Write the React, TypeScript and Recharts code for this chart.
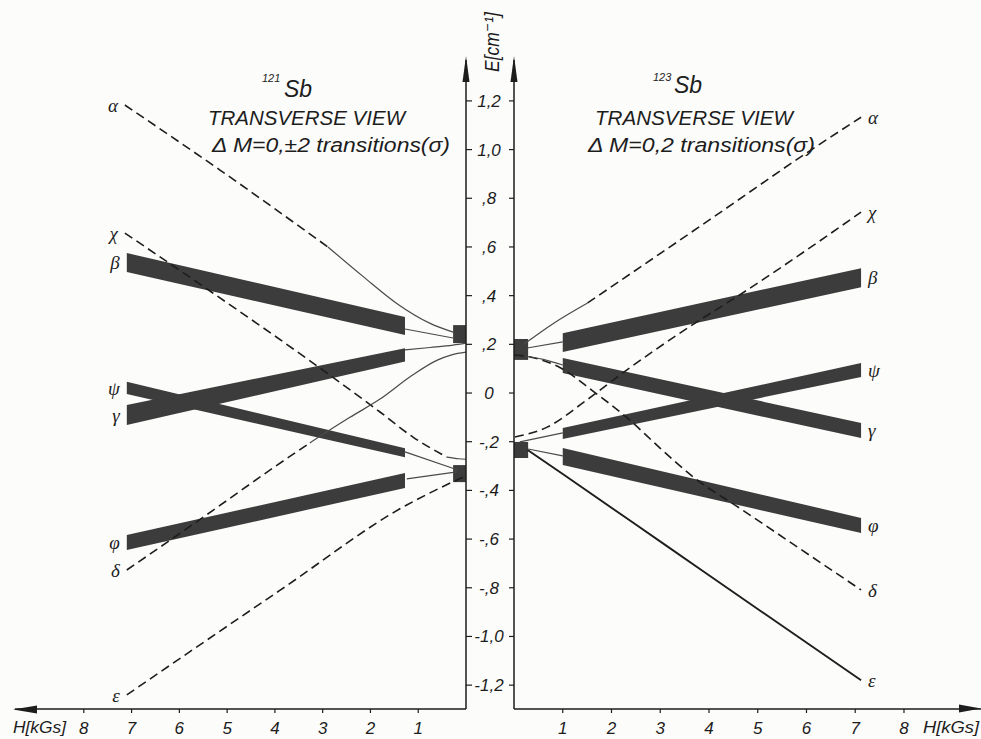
import React from 'react';
import { ComposedChart, Line, Area, XAxis, YAxis, ReferenceDot } from 'recharts';

type Pt = { h: number; e: number };
type RPt = { h: number; e: [number, number] };

// ---- axes ----
const eTicks = [-1.2, -1.0, -0.8, -0.6, -0.4, -0.2, 0, 0.2, 0.4, 0.6, 0.8, 1.0, 1.2];
const eTickLabels = ['-1,2', '-1,0', '-,8', '-,6', '-,4', '-,2', '0', ',2', ',4', ',6', ',8', '1,0', '1,2'];
const hTicks = [1, 2, 3, 4, 5, 6, 7, 8];
const hTickLabels = ['1', '2', '3', '4', '5', '6', '7', '8'];

// ---- 121Sb (left panel), H in kGs, E in cm^-1 ----
const betaL: RPt[] = [{ h: 7.1, e: [0.497, 0.575] }, { h: 1.277, e: [0.238, 0.312] }];
const gammaL: RPt[] = [{ h: 7.1, e: [-0.131, -0.049] }, { h: 1.277, e: [0.129, 0.184] }];
const psiL: RPt[] = [{ h: 7.1, e: [-0.004, 0.046] }, { h: 1.277, e: [-0.264, -0.227] }];
const phiL: RPt[] = [{ h: 7.1, e: [-0.645, -0.583] }, { h: 1.277, e: [-0.39, -0.329] }];
const blockUpL: RPt[] = [{ h: 0.27, e: [0.205, 0.279] }, { h: 0, e: [0.205, 0.279] }];
const blockLoL: RPt[] = [{ h: 0.27, e: [-0.366, -0.296] }, { h: 0, e: [-0.366, -0.296] }];

const alphaLDash: Pt[] = [{ h: 7.14, e: 1.183 }, { h: 5.15, e: 0.916 }, { h: 2.89, e: 0.6 }];
const alphaLSolid: Pt[] = [{ h: 2.89, e: 0.6 }, { h: 2.15, e: 0.478 }, { h: 1.45, e: 0.368 }, { h: 0.75, e: 0.286 }, { h: 0.27, e: 0.25 }];
const chiLDash: Pt[] = [{ h: 7.14, e: 0.657 }, { h: 5.3, e: 0.411 }, { h: 3.2, e: 0.123 }, { h: 1.8, e: -0.078 }, { h: 1.11, e: -0.181 }, { h: 0.4, e: -0.263 }];
const chiLSolid: Pt[] = [{ h: 0.4, e: -0.263 }, { h: 0.15, e: -0.27 }, { h: 0, e: -0.272 }];
const deltaLDash: Pt[] = [{ h: 7.1, e: -0.727 }, { h: 5.5, e: -0.51 }, { h: 4.04, e: -0.308 }, { h: 3.27, e: -0.205 }];
const deltaLSolid: Pt[] = [{ h: 3.27, e: -0.205 }, { h: 2.43, e: -0.1 }, { h: 1.8, e: -0.025 }, { h: 1.11, e: 0.075 }, { h: 0.6, e: 0.135 }, { h: 0.3, e: 0.157 }, { h: 0, e: 0.168 }];
const epsLDash: Pt[] = [{ h: 7.1, e: -1.24 }, { h: 3.89, e: -0.81 }, { h: 1.24, e: -0.46 }, { h: 0.7, e: -0.405 }, { h: 0.19, e: -0.357 }, { h: 0, e: -0.34 }];
const betaConnL: Pt[] = [{ h: 1.277, e: 0.263 }, { h: 0.27, e: 0.226 }];
const gammaConnL: Pt[] = [{ h: 1.277, e: 0.177 }, { h: 0.75, e: 0.187 }, { h: 0.27, e: 0.197 }, { h: 0, e: 0.205 }];
const psiConnL: Pt[] = [{ h: 1.277, e: -0.242 }, { h: 0.17, e: -0.316 }];
const phiConnL: Pt[] = [{ h: 1.24, e: -0.353 }, { h: 0.19, e: -0.324 }];

// ---- 123Sb (right panel) ----
const betaR: RPt[] = [{ h: 1.0, e: [0.168, 0.246] }, { h: 7.12, e: [0.435, 0.513] }];
const gammaR: RPt[] = [{ h: 1.0, e: [0.082, 0.144] }, { h: 7.12, e: [-0.185, -0.123] }];
const psiR: RPt[] = [{ h: 1.0, e: [-0.189, -0.144] }, { h: 7.12, e: [0.066, 0.123] }];
const phiR: RPt[] = [{ h: 1.0, e: [-0.296, -0.226] }, { h: 7.12, e: [-0.575, -0.513] }];
const blockUpR: RPt[] = [{ h: 0, e: [0.136, 0.222] }, { h: 0.29, e: [0.136, 0.222] }];
const blockLoR: RPt[] = [{ h: 0, e: [-0.267, -0.201] }, { h: 0.29, e: [-0.267, -0.201] }];

const alphaRSolid: Pt[] = [{ h: 0.2, e: 0.2 }, { h: 0.8, e: 0.285 }, { h: 1.51, e: 0.37 }];
const alphaRDash: Pt[] = [{ h: 1.51, e: 0.37 }, { h: 4.0, e: 0.71 }, { h: 6.09, e: 0.998 }, { h: 7.12, e: 1.133 }];
const chiRDash: Pt[] = [{ h: 0.02, e: -0.181 }, { h: 0.68, e: -0.14 }, { h: 1.49, e: -0.029 }, { h: 2.31, e: 0.094 }, { h: 3.66, e: 0.28 }, { h: 4.69, e: 0.411 }, { h: 7.12, e: 0.743 }];
const deltaRDash: Pt[] = [{ h: 0.02, e: 0.156 }, { h: 0.4, e: 0.145 }, { h: 0.94, e: 0.105 }, { h: 1.62, e: 0.008 }, { h: 2.31, e: -0.1 }, { h: 2.99, e: -0.225 }, { h: 3.66, e: -0.342 }, { h: 4.69, e: -0.481 }, { h: 7.12, e: -0.809 }];
const epsRSolid: Pt[] = [{ h: 0.28, e: -0.234 }, { h: 1.0, e: -0.333 }, { h: 3.13, e: -0.628 }, { h: 5.18, e: -0.912 }, { h: 7.12, e: -1.18 }];
const betaConnR: Pt[] = [{ h: 0.27, e: 0.185 }, { h: 1.0, e: 0.21 }];
const gammaConnR: Pt[] = [{ h: 0.27, e: 0.15 }, { h: 0.6, e: 0.138 }, { h: 1.0, e: 0.115 }];
const psiConnR: Pt[] = [{ h: 0.12, e: -0.201 }, { h: 1.0, e: -0.164 }];
const phiConnR: Pt[] = [{ h: 0.29, e: -0.23 }, { h: 1.0, e: -0.258 }];

// ---- styling ----
const FONT = '"Liberation Sans", "DejaVu Sans", Arial, sans-serif';
const SERIF = '"Liberation Serif", "DejaVu Serif", serif';
const INK = '#1d1d1d';
const BAND = '#3c3c3c';
const THIN = '#4a4a4a';
const E_DOMAIN: [number, number] = [-1.298, 1.368];

type LineDef = { id: string; data: Pt[]; kind: 'dash' | 'thin' | 'bold' };

const bandsLeft: { id: string; data: RPt[] }[] = [
  { id: 'betaL', data: betaL }, { id: 'gammaL', data: gammaL }, { id: 'psiL', data: psiL }, { id: 'phiL', data: phiL },
  { id: 'bUL', data: blockUpL }, { id: 'bLL', data: blockLoL },
];
const linesLeft: LineDef[] = [
  { id: 'aLd', data: alphaLDash, kind: 'dash' }, { id: 'aLs', data: alphaLSolid, kind: 'thin' },
  { id: 'cLd', data: chiLDash, kind: 'dash' }, { id: 'cLs', data: chiLSolid, kind: 'thin' },
  { id: 'dLd', data: deltaLDash, kind: 'dash' }, { id: 'dLs', data: deltaLSolid, kind: 'thin' },
  { id: 'eLd', data: epsLDash, kind: 'dash' },
  { id: 'bcL', data: betaConnL, kind: 'thin' }, { id: 'gcL', data: gammaConnL, kind: 'thin' },
  { id: 'pcL', data: psiConnL, kind: 'thin' }, { id: 'fcL', data: phiConnL, kind: 'thin' },
];
const bandsRight: { id: string; data: RPt[] }[] = [
  { id: 'betaR', data: betaR }, { id: 'gammaR', data: gammaR }, { id: 'psiR', data: psiR }, { id: 'phiR', data: phiR },
  { id: 'bUR', data: blockUpR }, { id: 'bLR', data: blockLoR },
];
const linesRight: LineDef[] = [
  { id: 'aRs', data: alphaRSolid, kind: 'thin' }, { id: 'aRd', data: alphaRDash, kind: 'dash' },
  { id: 'cRd', data: chiRDash, kind: 'dash' }, { id: 'dRd', data: deltaRDash, kind: 'dash' },
  { id: 'eRs', data: epsRSolid, kind: 'bold' },
  { id: 'bcR', data: betaConnR, kind: 'thin' }, { id: 'gcR', data: gammaConnR, kind: 'thin' },
  { id: 'pcR', data: psiConnR, kind: 'thin' }, { id: 'fcR', data: phiConnR, kind: 'thin' },
];

const mid = (p: RPt): Pt => ({ h: p.h, e: (p.e[0] + p.e[1]) / 2 });
const last = <T,>(a: T[]) => a[a.length - 1];

const labelsLeft: { t: string; p: Pt }[] = [
  { t: 'α', p: alphaLDash[0] }, { t: 'χ', p: chiLDash[0] }, { t: 'β', p: mid(betaL[0]) },
  { t: 'ψ', p: mid(psiL[0]) }, { t: 'γ', p: mid(gammaL[0]) }, { t: 'φ', p: mid(phiL[0]) },
  { t: 'δ', p: deltaLDash[0] }, { t: 'ε', p: epsLDash[0] },
];
const labelsRight: { t: string; p: Pt }[] = [
  { t: 'α', p: last(alphaRDash) }, { t: 'χ', p: last(chiRDash) }, { t: 'β', p: mid(last(betaR)) },
  { t: 'ψ', p: mid(last(psiR)) }, { t: 'γ', p: mid(last(gammaR)) }, { t: 'φ', p: mid(last(phiR)) },
  { t: 'δ', p: last(deltaRDash) }, { t: 'ε', p: last(epsRSolid) },
];

function ETick(props: any) {
  const { x, y, payload } = props;
  const idx = eTicks.findIndex((t) => Math.abs(t - payload.value) < 1e-6);
  return (
    <text x={x + 15} y={y} dy={6} textAnchor="middle" fontSize={17} fontStyle="italic" fontFamily={FONT} fill={INK}>
      {idx >= 0 ? eTickLabels[idx] : ''}
    </text>
  );
}
function NoTick() {
  return <g />;
}

const hFmt = (v: number) => {
  const i = hTicks.indexOf(v);
  return i >= 0 ? hTickLabels[i] : '';
};

function renderBands(bands: { id: string; data: RPt[] }[]) {
  return bands.map((b) => (
    <Area
      key={b.id}
      data={b.data}
      dataKey="e"
      type="linear"
      stroke="none"
      fill={BAND}
      fillOpacity={1}
      dot={false}
      activeDot={false}
      isAnimationActive={false}
    />
  ));
}
function renderLines(lines: LineDef[]) {
  return lines.map((l) => (
    <Line
      key={l.id}
      data={l.data}
      dataKey="e"
      type="monotone"
      stroke={l.kind === 'thin' ? THIN : INK}
      strokeWidth={l.kind === 'thin' ? 1.2 : l.kind === 'bold' ? 1.9 : 1.6}
      strokeDasharray={l.kind === 'dash' ? '9 5' : undefined}
      dot={false}
      activeDot={false}
      isAnimationActive={false}
    />
  ));
}
function renderLabels(labels: { t: string; p: Pt }[], side: 'left' | 'right') {
  return labels.map((l, i) => (
    <ReferenceDot
      key={side + i}
      x={l.p.h}
      y={l.p.e}
      r={0}
      fill="none"
      stroke="none"
      label={{ value: l.t, position: side, offset: 7, fill: INK, fontSize: 19, fontStyle: 'italic', fontFamily: SERIF }}
    />
  ));
}

const axisLine = { stroke: INK, strokeWidth: 1.5 };
const tickLine = { stroke: INK, strokeWidth: 1.2 };
const xTick = { fontSize: 17, fontStyle: 'italic', fontFamily: FONT, fill: INK };

export default function App() {
  return (
    <div style={{ position: 'absolute', left: 0, top: 0, width: 981, height: 739, background: '#fcfcfa', overflow: 'hidden' }}>
      <div style={{ position: 'absolute', left: 0, top: 0 }}>
        <ComposedChart width={506} height={739} margin={{ top: 60, right: 0, bottom: 0, left: 15 }}>
          <XAxis
            type="number"
            dataKey="h"
            domain={[0, 9.44]}
            reversed
            allowDataOverflow
            ticks={hTicks}
            interval={0}
            tickFormatter={hFmt}
            height={30}
            tickSize={4}
            tickMargin={9}
            axisLine={axisLine}
            tickLine={tickLine}
            tick={xTick}
          />
          <YAxis
            type="number"
            orientation="right"
            domain={E_DOMAIN}
            allowDataOverflow
            ticks={eTicks}
            interval={0}
            width={40}
            tickSize={6}
            tickMargin={2}
            axisLine={axisLine}
            tickLine={tickLine}
            tick={<ETick />}
          />
          {renderBands(bandsLeft)}
          {renderLines(linesLeft)}
          {renderLabels(labelsLeft, 'left')}
        </ComposedChart>
      </div>
      <div style={{ position: 'absolute', left: 484, top: 0 }}>
        <ComposedChart width={497} height={739} margin={{ top: 60, right: 0, bottom: 0, left: 0 }}>
          <XAxis
            type="number"
            dataKey="h"
            domain={[0, 9.58]}
            allowDataOverflow
            ticks={hTicks}
            interval={0}
            tickFormatter={hFmt}
            height={30}
            tickSize={4}
            tickMargin={9}
            axisLine={axisLine}
            tickLine={tickLine}
            tick={xTick}
          />
          <YAxis
            type="number"
            orientation="left"
            domain={E_DOMAIN}
            allowDataOverflow
            ticks={eTicks}
            interval={0}
            width={30}
            tickSize={5}
            axisLine={axisLine}
            tickLine={tickLine}
            tick={<NoTick />}
          />
          {renderBands(bandsRight)}
          {renderLines(linesRight)}
          {renderLabels(labelsRight, 'right')}
        </ComposedChart>
      </div>
      <svg width={981} height={739} style={{ position: 'absolute', left: 0, top: 0, pointerEvents: 'none' }}>
        <g fill={INK} fontFamily={FONT} fontStyle="italic">
          {/* left titles */}
          <text x={262} y={82} fontSize={11}>121</text>
          <text x={284} y={97} fontSize={23}>Sb</text>
          <text x={208} y={125} fontSize={20} textLength={197} lengthAdjust="spacingAndGlyphs">TRANSVERSE VIEW</text>
          <text x={212} y={152} fontSize={20} textLength={238} lengthAdjust="spacingAndGlyphs">Δ M=0,±2 transitions(σ)</text>
          {/* right titles */}
          <text x={653} y={81} fontSize={11}>123</text>
          <text x={674} y={93} fontSize={23}>Sb</text>
          <text x={595} y={125} fontSize={20} textLength={198} lengthAdjust="spacingAndGlyphs">TRANSVERSE VIEW</text>
          <text x={588} y={152} fontSize={20} textLength={227} lengthAdjust="spacingAndGlyphs">Δ M=0,2 transitions(σ)</text>
          {/* axis titles */}
          <text transform="translate(499,72) rotate(-90)" fontSize={21} textLength={60} lengthAdjust="spacingAndGlyphs">E[cm⁻¹]</text>
          <text x={13} y={733} fontSize={17} textLength={53} lengthAdjust="spacingAndGlyphs">H[kGs]</text>
          <text x={923} y={733} fontSize={17} textLength={56} lengthAdjust="spacingAndGlyphs">H[kGs]</text>
        </g>
        <g fill={INK}>
          <polygon points="13,709.5 37,705.5 37,713.5" />
          <polygon points="981,708.5 959,704.5 959,712.5" />
          <polygon points="466,56 462.5,82 469.5,82" />
          <polygon points="514,56 510.5,82 517.5,82" />
        </g>
      </svg>
    </div>
  );
}
